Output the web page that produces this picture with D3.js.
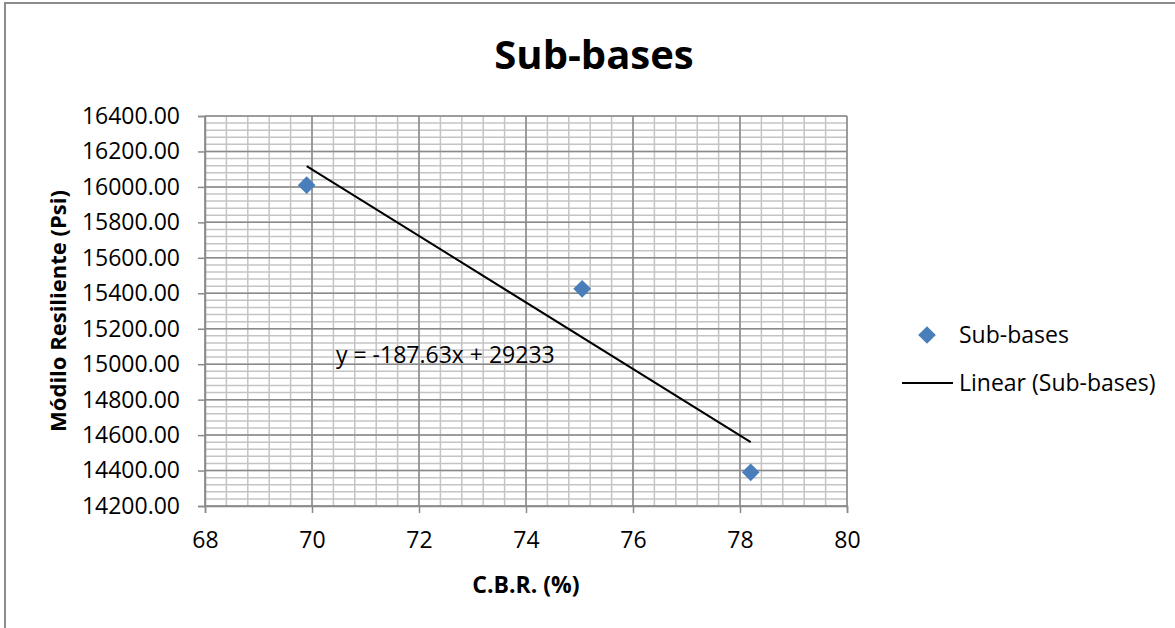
<!DOCTYPE html>
<html lang="es">
<head>
<meta charset="UTF-8">
<script src="https://d3js.org/d3.v7.min.js"></script>
<title>Sub-bases</title>
<style>
  body { margin: 0; background: #fff; }
  text { font-family: "Open Sans", "Liberation Sans", sans-serif; fill: #000; }
</style>
</head>
<body>
<script>
// data
const cbr = [69.9, 75.05, 78.2];
const modulo = [16010, 15425, 14390];
const xTicks = [68, 70, 72, 74, 76, 78, 80];
const yTicks = [14200, 14400, 14600, 14800, 15000, 15200, 15400, 15600, 15800, 16000, 16200, 16400];
const slope = -187.63, intercept = 29233;
const eqLabel = "y = -187.63x + 29233";

const W = 1175, H = 628;
const svg = d3.select("body").append("svg").attr("width", W).attr("height", H);

// outer chart border (only top/left visible)
svg.append("rect").attr("x", 5).attr("y", 3).attr("width", W + 10).attr("height", H + 10)
  .attr("fill", "#fff").attr("stroke", "#8c8c8c").attr("stroke-width", 2);

const plot = { left: 205, right: 847, top: 116, bottom: 506 };
const x = d3.scaleLinear().domain([68, 80]).range([plot.left, plot.right]);
const y = d3.scaleLinear().domain([14200, 16400]).range([plot.bottom, plot.top]);

// minor grid
const xMinor = d3.range(68, 80.001, 0.4);
const yMinor = d3.range(14200, 16400.001, 40);
const g = svg.append("g");
g.selectAll(".vminor").data(xMinor).enter().append("line")
  .attr("x1", d => x(d)).attr("x2", d => x(d)).attr("y1", plot.top).attr("y2", plot.bottom)
  .attr("stroke", "#c4c4c4").attr("stroke-width", 1.5);
g.selectAll(".hminor").data(yMinor).enter().append("line")
  .attr("y1", d => y(d)).attr("y2", d => y(d)).attr("x1", plot.left).attr("x2", plot.right)
  .attr("stroke", "#c4c4c4").attr("stroke-width", 1.5);
// major grid
g.selectAll(".vmajor").data(xTicks).enter().append("line")
  .attr("x1", d => x(d)).attr("x2", d => x(d)).attr("y1", plot.top).attr("y2", plot.bottom)
  .attr("stroke", "#8a8a8a").attr("stroke-width", 1.5);
g.selectAll(".hmajor").data(yTicks).enter().append("line")
  .attr("y1", d => y(d)).attr("y2", d => y(d)).attr("x1", plot.left).attr("x2", plot.right)
  .attr("stroke", "#8a8a8a").attr("stroke-width", 1.5);

// axes
const xAxis = svg.append("g").attr("transform", `translate(0,${plot.bottom})`)
  .call(d3.axisBottom(x).tickValues(xTicks).tickSize(7).tickPadding(19).tickFormat(d3.format("d")));
const yAxis = svg.append("g").attr("transform", `translate(${plot.left},0)`)
  .call(d3.axisLeft(y).tickValues(yTicks).tickSize(7).tickPadding(18).tickFormat(d3.format(".2f")));
[xAxis, yAxis].forEach(a => {
  a.select(".domain").attr("stroke", "#8a8a8a").attr("stroke-width", 1.5);
  a.selectAll(".tick line").attr("stroke", "#8a8a8a").attr("stroke-width", 1.5);
  a.selectAll("text").attr("font-family", "Open Sans").attr("font-size", 23).attr("fill", "#000");
});

// trendline
const tl = d3.extent(cbr);
svg.append("path")
  .attr("d", d3.line()([[x(tl[0]), y(slope * tl[0] + intercept)], [x(tl[1]), y(slope * tl[1] + intercept)]]))
  .attr("stroke", "#000").attr("stroke-width", 2).attr("fill", "none");

// points
const diamond = d3.symbol().type(d3.symbolDiamond2).size(200);
svg.selectAll(".pt").data(cbr).enter().append("path")
  .attr("d", diamond)
  .attr("transform", (d, i) => `translate(${x(d)},${y(modulo[i])})`)
  .attr("fill", "#4a7ebb");

// equation
svg.append("text").attr("x", 336).attr("y", 363).attr("font-size", 23).text(eqLabel);

// title
svg.append("text").attr("x", 594).attr("y", 69).attr("text-anchor", "middle")
  .attr("font-size", 40).attr("font-weight", "bold").text("Sub-bases");

// axis titles
svg.append("text").attr("x", (plot.left + plot.right) / 2).attr("y", 593).attr("text-anchor", "middle")
  .attr("font-size", 23).attr("font-weight", "bold").text("C.B.R. (%)");
svg.append("text").attr("transform", `translate(66,${(plot.top + plot.bottom) / 2}) rotate(-90)`)
  .attr("text-anchor", "middle").attr("font-size", 22).attr("font-weight", "bold")
  .text("Módilo Resiliente (Psi)");

// legend
const lg = svg.append("g");
lg.append("path").attr("d", diamond).attr("transform", "translate(927,335)").attr("fill", "#4a7ebb");
lg.append("text").attr("x", 959).attr("y", 343).attr("font-size", 23).text("Sub-bases");
lg.append("line").attr("x1", 902).attr("x2", 953).attr("y1", 383).attr("y2", 383)
  .attr("stroke", "#000").attr("stroke-width", 2);
lg.append("text").attr("x", 959).attr("y", 391).attr("font-size", 23).text("Linear (Sub-bases)");
</script>
</body>
</html>
